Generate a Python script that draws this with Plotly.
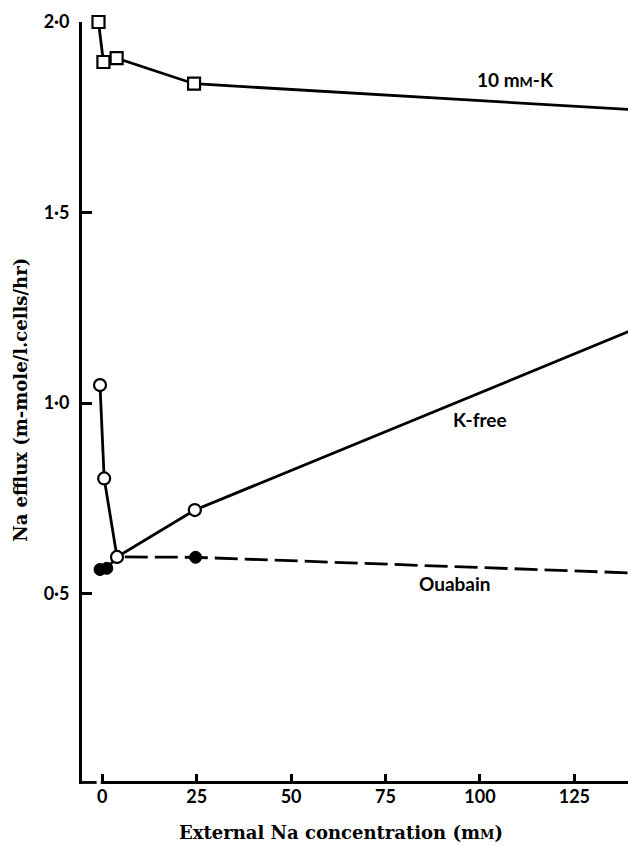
import plotly.graph_objects as go

# ---- data ----
k10_x = [-1.0, 0.3, 3.8, 24.3, 140]
k10_y = [2.00, 1.895, 1.905, 1.838, 1.77]

kfree_x = [-0.6, 0.5, 3.9, 24.5, 140]
kfree_y = [1.047, 0.802, 0.596, 0.719, 1.19]

ouab_x = [-0.6, 1.2, 3.9, 24.7, 140]
ouab_y = [0.563, 0.566, 0.596, 0.595, 0.554]

x_ticks = [0, 25, 50, 75, 100, 125]
y_ticks = [0.5, 1.0, 1.5, 2.0]
y_tick_text = ["0·5", "1·0", "1·5", "2·0"]

SANS = "Lato, 'Open Sans', sans-serif"
SERIF = "'DejaVu Serif', serif"

fig = go.Figure()

fig.add_trace(go.Scatter(
    x=ouab_x, y=ouab_y, mode="lines+markers",
    line=dict(color="black", width=2.8, dash="23px,7px"),
    marker=dict(symbol="circle", size=12, color="black",
                line=dict(color="black", width=1)),
    cliponaxis=False, showlegend=False))

fig.add_trace(go.Scatter(
    x=kfree_x, y=kfree_y, mode="lines+markers",
    line=dict(color="black", width=2.8),
    marker=dict(symbol="circle", size=12, color="white",
                line=dict(color="black", width=2.2)),
    cliponaxis=False, showlegend=False))

fig.add_trace(go.Scatter(
    x=k10_x, y=k10_y, mode="lines+markers",
    line=dict(color="black", width=2.8),
    marker=dict(symbol="square", size=12, color="white",
                line=dict(color="black", width=2.2)),
    cliponaxis=False, showlegend=False))

LBL = dict(family=SANS, size=19, color="black", weight="bold")

# series labels
fig.add_annotation(x=109.3, y=1.849, text="10 m<span style='font-size:14px'>M</span>-K",
                   showarrow=False, xanchor="center", yanchor="middle", font=LBL)
fig.add_annotation(x=100.1, y=0.958, text="K-free",
                   showarrow=False, xanchor="center", yanchor="middle", font=LBL)
fig.add_annotation(x=93.3, y=0.525, text="Ouabain",
                   showarrow=False, xanchor="center", yanchor="middle", font=LBL)

TTL = dict(family=SERIF, size=18, color="black", weight="bold")

# axis titles
fig.add_annotation(xref="paper", yref="paper", x=0.474, y=-0.0643,
                   xanchor="center", yanchor="middle",
                   text="External Na concentration (m<span style='font-size:13px'>M</span>)",
                   showarrow=False, font=TTL)
fig.add_annotation(xref="paper", yref="paper", x=-0.112, y=0.504, textangle=-90,
                   xanchor="center", yanchor="middle",
                   text="Na efflux (m-mole/l.cells/hr)",
                   showarrow=False, font=TTL)

# x axis line with a small break near the origin
fig.add_shape(type="line", xref="x", yref="paper", x0=-5.4, x1=-1.5, y0=0.002, y1=0.002,
              line=dict(color="black", width=2.8))
fig.add_shape(type="line", xref="x", yref="paper", x0=-0.4, x1=141, y0=0.002, y1=0.002,
              line=dict(color="black", width=2.8))

TICKF = dict(family=SANS, size=18, color="black", weight="bold")

fig.update_layout(
    width=628, height=846,
    margin=dict(l=82, r=0, t=22, b=62),
    paper_bgcolor="white", plot_bgcolor="white",
    font=dict(family=SANS, size=18, color="black"),
    xaxis=dict(range=[-5.37, 139.2], tickvals=x_ticks,
               ticktext=[str(v) for v in x_ticks],
               ticks="inside", ticklen=10, tickwidth=2.8, tickcolor="black",
               showline=False, showgrid=False, zeroline=False,
               tickfont=TICKF),
    yaxis=dict(range=[0, 2.0], tickvals=y_ticks, ticktext=y_tick_text,
               ticks="inside", ticklen=10, tickwidth=2.8, tickcolor="black",
               showline=True, linecolor="black", linewidth=2.8,
               showgrid=False, zeroline=False, ticklabelstandoff=6,
               tickfont=TICKF),
)

fig.write_html("out.html")
